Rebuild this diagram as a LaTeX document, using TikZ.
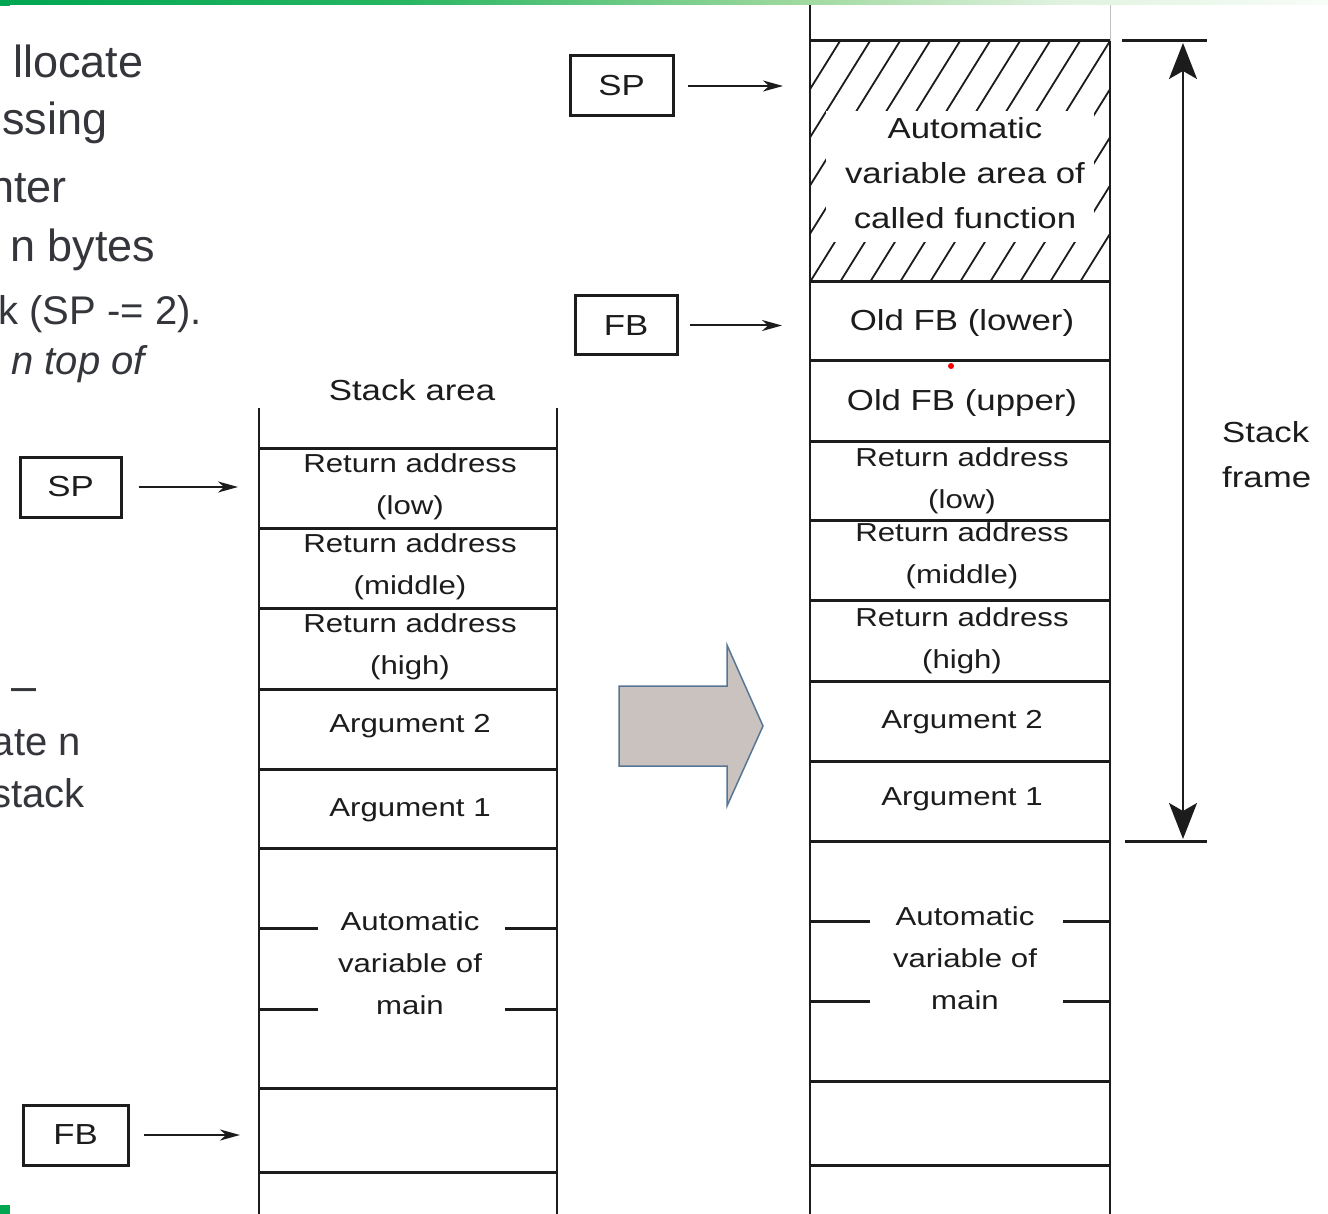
\documentclass[tikz,border=0pt]{standalone}
\usepackage{fontspec}
\setmainfont{Liberation Sans}
\newfontfamily\scanfont[FakeStretch=1.2]{Liberation Sans}
\usetikzlibrary{arrows.meta}

\definecolor{slidetext}{RGB}{52,54,60}
\definecolor{ink}{RGB}{28,28,28}
\definecolor{barGreen}{RGB}{0,166,81}
\definecolor{arrowFill}{RGB}{201,194,191}
\definecolor{arrowEdge}{RGB}{86,118,150}

% slide title bar: dark green on the left fading out to the right
\pgfdeclarehorizontalshading{topbar}{100bp}{%
  rgb(0bp)=(0,0.65,0.32); rgb(25bp)=(0,0.65,0.32); rgb(40bp)=(0.15,0.71,0.38);
  rgb(55bp)=(0.62,0.85,0.62); rgb(65bp)=(0.88,0.95,0.88); rgb(75bp)=(0.97,0.99,0.97);
  rgb(100bp)=(0.97,0.99,0.97)}

\tikzset{
  cell/.style={font=\scanfont\fontsize{26}{42}\selectfont, text=ink, align=center, inner sep=0pt},
  bigcell/.style={font=\scanfont\fontsize{29}{45}\selectfont, text=ink, align=center, inner sep=0pt},
  reg/.style={draw=ink, line width=3pt, minimum height=60pt, inner sep=0pt,
              font=\scanfont\fontsize{29}{35}\selectfont, text=ink},
  ptr/.style={ink, line width=2pt, -{Stealth[length=20pt,width=11pt,inset=6pt]}},
  wall/.style={ink, line width=2.2pt},
  sep/.style={ink, line width=3pt},
  slide/.style={font=\fontsize{45}{54}\selectfont, text=slidetext, inner sep=0pt},
  slidesmall/.style={font=\fontsize{40}{48}\selectfont, text=slidetext, inner sep=0pt},
  framearrow/.style={ink, line width=2pt,
    {Stealth[length=36pt,width=28pt,inset=8pt]}-{Stealth[length=36pt,width=28pt,inset=8pt]}},
}

\begin{document}
\begin{tikzpicture}[x=1pt,y=-1pt]
\useasboundingbox (0,0) rectangle (1328,1214);
\fill[white] (0,0) rectangle (1328,1214);
\shade[shading=topbar] (0,0) rectangle (1328,5);
\fill[barGreen] (0,0) rectangle (10,6);
\fill[barGreen] (0,1205) rectangle (10,1214);

% ---- slide text running in from the left edge ----
\begin{scope}
\clip (0,0) rectangle (1328,1214);
\node[slide, anchor=base west] (t1) at (13,78) {llocate};
\node[slide, anchor=base west] (t2) at (2,135) {ssing};
\node[slide, anchor=base east] (t3) at (67,203) {nter};
\node[slide, anchor=base west] (t4) at (10,262) {n bytes};
\node[slidesmall, anchor=base east] (t5) at (202,325) {k (SP -= 2).};
\node[slidesmall, font=\itshape\fontsize{40}{48}\selectfont, anchor=base east] (t6) at (145,375) {n top of};
\node[slide, anchor=base west] (t7) at (11,701) {–};
\node[slidesmall, anchor=base east] (t8) at (81,755) {ate n};
\node[slidesmall, anchor=base east] (t9) at (85,807) {stack};
\end{scope}

% ---- stack before the call ----
\draw[wall] (259,408) -- (259,1214);
\draw[wall] (557,408) -- (557,1214);
\foreach \y in {448,528,608,689,769,848,1088,1172}
  \draw[sep] (259,\y) -- (557,\y);
\draw[sep] (259,928) -- (318,928);  \draw[sep] (505,928) -- (557,928);
\draw[sep] (259,1009) -- (318,1009); \draw[sep] (505,1009) -- (557,1009);

\node[bigcell] (la-title) at (412,390) {Stack area};
\node[cell] (la-ra1) at (410,487) {Return address\\(low)};
\node[cell] (la-ra2) at (410,567) {Return address\\(middle)};
\node[cell] (la-ra3) at (410,647) {Return address\\(high)};
\node[cell] (la-arg2) at (410,726) {Argument 2};
\node[cell] (la-arg1) at (410,810) {Argument 1};
\node[cell, fill=white, inner xsep=6pt] (la-auto) at (410,963) {Automatic\\variable of\\main};

\node[reg, minimum width=101pt] (sp1) at (70.5,487) {SP};
\coordinate (sp1-tip) at (238,487);
\draw[ptr] ([xshift=16pt]sp1.east) -- (sp1-tip);

\node[reg, minimum width=105pt] (fb1) at (75.5,1135) {FB};
\coordinate (fb1-tip) at (240,1135);
\draw[ptr] ([xshift=14pt]fb1.east) -- (fb1-tip);

% ---- block arrow between the two states ----
\draw[arrowEdge, fill=arrowFill, line width=1.5pt, line join=miter]
  (619,686) -- (727,686) -- (727,645) -- (763,726) -- (727,806) -- (727,766) -- (619,766) -- cycle;

% ---- stack after the call ----
\begin{scope}
\clip (810,41) rectangle (1110,282);
\foreach \x in {660,690,...,1110}
  \draw[ink, line width=1.8pt] (\x,282) -- (\x+150,41);
\end{scope}
\fill[white] (826,111) rectangle (1094,242);

\draw[wall] (810,5) -- (810,1214);
\draw[wall] (1110,41) -- (1110,1214);
\draw[black!25, line width=1pt] (1110,5) -- (1110,41);
\foreach \y in {41,282,361,441,520,600,681,761,841,1081,1165}
  \draw[sep] (810,\y) -- (1110,\y);
\draw[sep] (810,921) -- (870,921);  \draw[sep] (1063,921) -- (1110,921);
\draw[sep] (810,1001) -- (870,1001); \draw[sep] (1063,1001) -- (1110,1001);

\node[bigcell] (ra-auto) at (965,173) {Automatic\\variable area of\\called function};
\node[bigcell] (ra-fbl) at (962,323) {Old FB (lower)};
\node[bigcell] (ra-fbu) at (962,403) {Old FB (upper)};
\node[cell] (ra-ra1) at (962,481) {Return address\\(low)};
\node[cell] (ra-ra2) at (962,556) {Return address\\(middle)};
\node[cell] (ra-ra3) at (962,641) {Return address\\(high)};
\node[cell] (ra-arg2) at (962,722) {Argument 2};
\node[cell] (ra-arg1) at (962,799) {Argument 1};
\node[cell, fill=white, inner xsep=6pt] (ra-auto-main) at (965,958) {Automatic\\variable of\\main};

\fill[red] (951,366) circle (3pt);

\node[reg, minimum width=103pt] (sp2) at (621.5,86) {SP};
\coordinate (sp2-tip) at (783,86);
\draw[ptr] ([xshift=13pt]sp2.east) -- (sp2-tip);

\node[reg, minimum width=102pt, minimum height=59pt] (fb2) at (626,325.5) {FB};
\coordinate (fb2-tip) at (782,325.5);
\draw[ptr] ([xshift=11pt]fb2.east) -- (fb2-tip);

% ---- stack frame extent ----
\draw[sep] (1122,41) -- (1207,41);
\draw[sep] (1125,841) -- (1207,841);
\coordinate (sf-top) at (1183,43);
\coordinate (sf-bot) at (1183,839);
\draw[framearrow] (sf-top) -- (sf-bot);
\node[bigcell, align=left, anchor=west] (sf-label) at (1222,455) {Stack\\frame};
\end{tikzpicture}
\end{document}
